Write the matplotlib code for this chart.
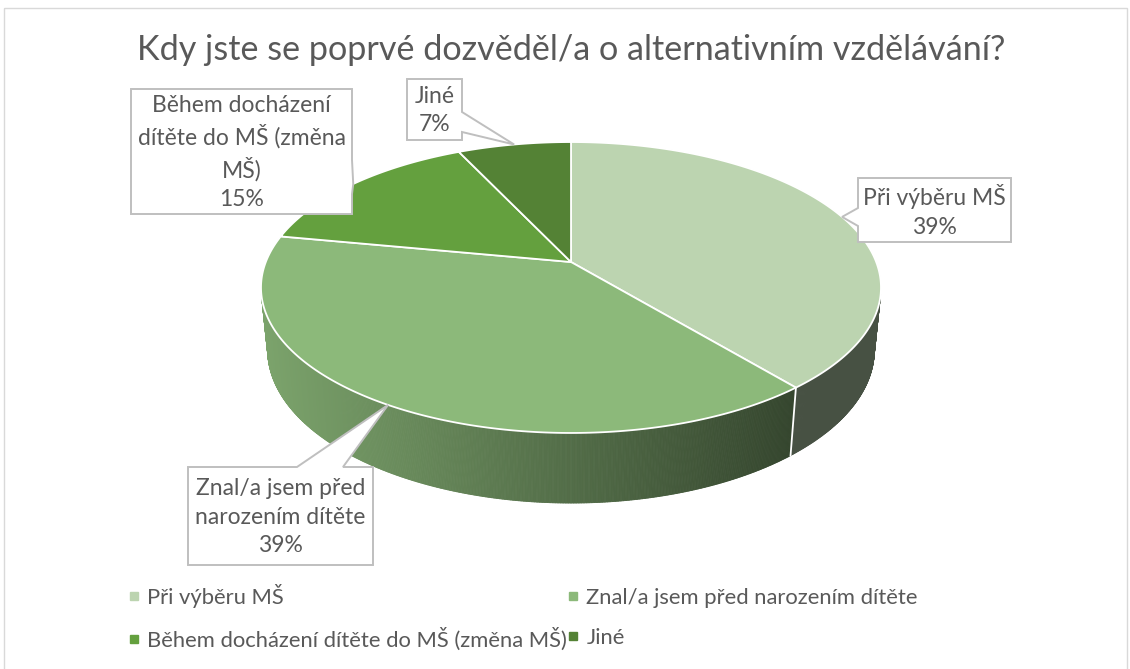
import numpy as np
import matplotlib
matplotlib.use("Agg")
import matplotlib.pyplot as plt
from matplotlib.patches import Polygon, Rectangle
from matplotlib.collections import PolyCollection
from matplotlib.lines import Line2D
from matplotlib.colors import to_rgb

# ---------------- data ----------------
title = "Kdy jste se poprvé dozvěděl/a o alternativním vzdělávání?"
categories = ["Při výběru MŠ",
              "Znal/a jsem před narozením dítěte",
              "Během docházení dítěte do MŠ (změna MŠ)",
              "Jiné"]
values = [39, 39, 15, 7]
label_texts = ["Při výběru MŠ",
               "Znal/a jsem před\nnarozením dítěte",
               "Během docházení\ndítěte do MŠ (změna\nMŠ)",
               "Jiné"]
top_colors = ["#BCD4B0", "#8CB97A", "#64A03E", "#548235"]

FONT = ["Lato", "DejaVu Sans"]
TXT = "#595959"

W, H = 1130, 669
fig = plt.figure(figsize=(W / 100, H / 100), dpi=100)
ax = fig.add_axes([0, 0, 1, 1])
ax.set_xlim(0, W)
ax.set_ylim(H, 0)
ax.axis("off")
renderer = fig.canvas.get_renderer()


def fit_size(s, target_w):
    t = ax.text(0, 0, s, fontsize=10, family=FONT)
    w = t.get_window_extent(renderer).width
    t.remove()
    return 10 * target_w / w


# ---------------- 3D projection of the pie ----------------
CX, CY = 571, 262
K, A, B = 0.1753, 141.0, 305.2
s_ = A / B
c_ = np.sqrt(1 - s_ ** 2)
D = c_ / K
F = B * D
HT = 0.2324  # thickness


def proj(X, Y, Z):
    depth = D + Z * c_ - Y * s_
    return CX + F * X / depth, CY - F * (Y * c_ + Z * s_) / depth


def rim(theta_deg, Y=0.0):
    t = np.radians(theta_deg)
    return proj(np.sin(t), Y, np.cos(t))


total = float(sum(values))
bounds = np.concatenate([[0], np.cumsum(values)]) / total * 360.0

# side (visible front part)
vis0 = np.degrees(np.arccos(-1.0 / (D * c_)))
vis1 = 360 - vis0
th = np.linspace(vis0, vis1, 600)
th = np.unique(np.concatenate([th, bounds[(bounds > vis0) & (bounds < vis1)]]))
polys, cols = [], []
for a0, a1 in zip(th[:-1], th[1:]):
    mid = 0.5 * (a0 + a1)
    idx = int(np.searchsorted(bounds, mid) - 1)
    p0, p1 = rim(a0), rim(a1)
    q0, q1 = rim(a0, -HT), rim(a1, -HT)
    polys.append([p0, p1, q1, q0])
    xm = rim(mid)[0]
    u = (xm - CX) / B
    fac = np.clip(0.88 - 0.289 * (u + 1.01), 0.38, 0.88)
    rgb = np.array(to_rgb(top_colors[idx])) * fac
    cols.append(rgb)
pc = PolyCollection(polys, facecolors=cols, edgecolors=cols, linewidths=0.6, zorder=1)
ax.add_collection(pc)

# boundaries on the side
for b in bounds[1:-1]:
    if vis0 < b < vis1:
        (x0, y0), (x1, y1) = rim(b), rim(b, -HT)
        ax.plot([x0, x1], [y0, y1], color="white", lw=1.3, zorder=2)

# top wedges
for i, v in enumerate(values):
    a = np.linspace(bounds[i], bounds[i + 1], 200)
    pts = [proj(0, 0, 0)] + [rim(t) for t in a]
    ax.add_patch(Polygon(pts, closed=True, facecolor=top_colors[i], edgecolor="white",
                         lw=1.3, joinstyle="round", zorder=3))

# ---------------- callouts ----------------
boxes = [  # (x0, y0, x1, y1, side, base0, base1)
    (858, 178, 1011, 242, "left", 208, 226),
    (188, 467, 373, 565, "top", 297, 343),
    (131, 89, 352, 214, "right", 160, 194),
    (407, 79, 462, 140, "right", 112, 132),
]
lab_size = fit_size("Během docházení", 171) * 1.04
for i, (x0, y0, x1, y1, side, b0, b1) in enumerate(boxes):
    mid = 0.5 * (bounds[i] + bounds[i + 1])
    tip = rim(mid)
    TL, TR, BR, BL = (x0, y0), (x1, y0), (x1, y1), (x0, y1)
    if side == "top":
        pts = [TL, (b0, y0), tip, (b1, y0), TR, BR, BL]
    elif side == "right":
        pts = [TL, TR, (x1, b0), tip, (x1, b1), BR, BL]
    else:
        pts = [TL, TR, BR, BL, (x0, b1), tip, (x0, b0)]
    ax.add_patch(Polygon(pts, closed=True, facecolor="white", edgecolor="#BFBFBF",
                         lw=1.4, joinstyle="miter", zorder=5))
    ax.text((x0 + x1) / 2, (y0 + y1) / 2 + 1, f"{label_texts[i]}\n{values[i]}%",
            ha="center", va="center", multialignment="center", fontsize=lab_size,
            color=TXT, family=FONT, linespacing=1.42, zorder=6)

# ---------------- title ----------------
ax.text(571, 50, title, ha="center", va="center", fontsize=fit_size(title, 870),
        color=TXT, family=FONT, zorder=6)

# ---------------- legend ----------------
leg_size = fit_size(categories[2], 420)
handles = [Line2D([], [], marker="s", linestyle="None", markersize=5.5,
                  markerfacecolor=c, markeredgecolor=c) for c in top_colors]
order = [0, 2, 1, 3]
fig.legend([handles[j] for j in order], [categories[j] for j in order],
           loc="upper left", bbox_to_anchor=(127 / W, 1 - 584 / H), ncol=2,
           frameon=False, prop={"family": FONT, "size": leg_size},
           labelcolor=TXT, handlelength=0.6, handletextpad=0.3,
           columnspacing=0.0, labelspacing=0.9, borderaxespad=0, borderpad=0)

# ---------------- chart border ----------------
ax.add_patch(Rectangle((4, 8), 1123, 680, fill=False, edgecolor="#D9D9D9", lw=1, zorder=0))

fig.savefig("out.png", dpi=100)
